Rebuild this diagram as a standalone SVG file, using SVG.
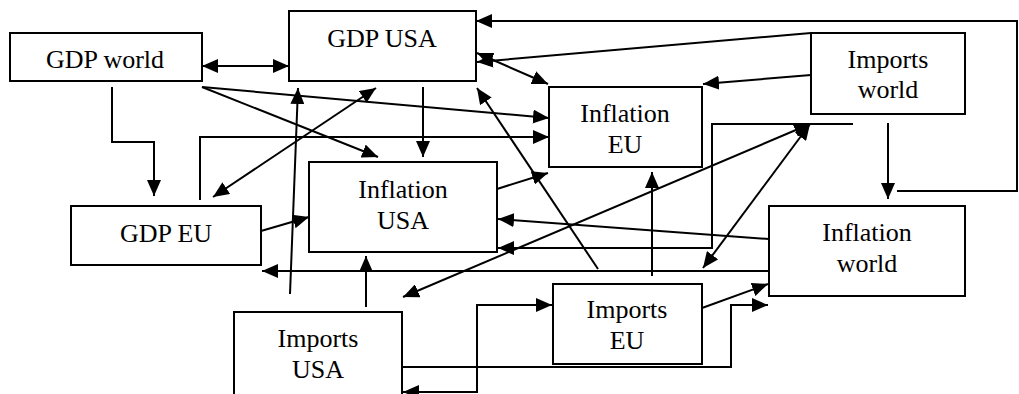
<svg xmlns="http://www.w3.org/2000/svg" width="1019" height="394" viewBox="0 0 1019 394">
<style>
.box{fill:#fff;stroke:#000;stroke-width:2}
.t{font-family:"Liberation Serif","Times New Roman",serif;font-size:26px;fill:#000;text-anchor:middle}
.c path{fill:none;stroke:#000;stroke-width:2}
.e{marker-end:url(#ah)}
.d{marker-start:url(#ah);marker-end:url(#ah)}
</style>
<defs>
<marker id="ah" markerUnits="userSpaceOnUse" viewBox="0 0 16 14" markerWidth="16" markerHeight="14" refX="16" refY="7" orient="auto-start-reverse">
<path d="M0,0 L16,7 L0,14 z" fill="#000"/>
</marker>
</defs>
<rect width="1019" height="394" fill="#fff"/>
<g id="connectors" class="c">
<path class="d" d="M202,66 H289"/>
<path class="e" d="M112,87 V142 H154 V196"/>
<path class="e" d="M202,87 L549,118"/>
<path class="e" d="M202,87 L378,157"/>
<path class="e" d="M423,87 V157"/>
<path class="e" d="M290,294 L298,88"/>
<path class="d" d="M213,197 L376,88"/>
<path class="e" d="M200,200 V137 H549"/>
<path class="e" d="M261,231 L309,217"/>
<path class="e" d="M497,189 L548,173"/>
<path class="e" d="M897,191 H1017 V21 H476"/>
<path class="e" d="M811,33 L477,62"/>
<path class="d" d="M477,53 L548,84"/>
<path class="e" d="M811,75 L703,84"/>
<path class="e" d="M888,123 V199"/>
<path class="e" d="M853,124 H712 V248 H498"/>
<path class="d" d="M703,268 L810,124"/>
<path class="d" d="M403,297 L810,124"/>
<path class="e" d="M769,239 L498,219"/>
<path class="e" d="M769,271 H262"/>
<path class="e" d="M702,308 L768,284"/>
<path class="e" d="M402,367 H731 V305 H768"/>
<path class="d" d="M403,392 H477 V305 H552"/>
<path class="e" d="M366,307 V256"/>
<path class="e" d="M598,269 L477,88"/>
<path class="e" d="M652,276 V172"/>
</g>
<g id="gdp-world"><rect class="box" x="10" y="33" width="192" height="48"/><text class="t" x="105" y="68">GDP world</text></g>
<g id="gdp-usa"><rect class="box" x="289" y="11" width="187" height="70"/><text class="t" x="382" y="47">GDP USA</text></g>
<g id="inflation-eu"><rect class="box" x="549" y="87" width="153" height="80"/><text class="t" x="625" y="122">Inflation</text><text class="t" x="625" y="153">EU</text></g>
<g id="imports-world"><rect class="box" x="811" y="33" width="154" height="81"/><text class="t" x="888" y="68">Imports</text><text class="t" x="888" y="98">world</text></g>
<g id="gdp-eu"><rect class="box" x="71" y="206" width="190" height="59"/><text class="t" x="166" y="242">GDP EU</text></g>
<g id="inflation-usa"><rect class="box" x="309" y="162" width="188" height="90"/><text class="t" x="403" y="198">Inflation</text><text class="t" x="403" y="229">USA</text></g>
<g id="inflation-world"><rect class="box" x="769" y="206" width="196" height="90"/><text class="t" x="867" y="241">Inflation</text><text class="t" x="867" y="272">world</text></g>
<g id="imports-usa"><rect class="box" x="234" y="312" width="168" height="100"/><text class="t" x="318" y="347">Imports</text><text class="t" x="318" y="378">USA</text></g>
<g id="imports-eu"><rect class="box" x="553" y="284" width="149" height="80"/><text class="t" x="627" y="318">Imports</text><text class="t" x="627" y="349">EU</text></g>
</svg>
